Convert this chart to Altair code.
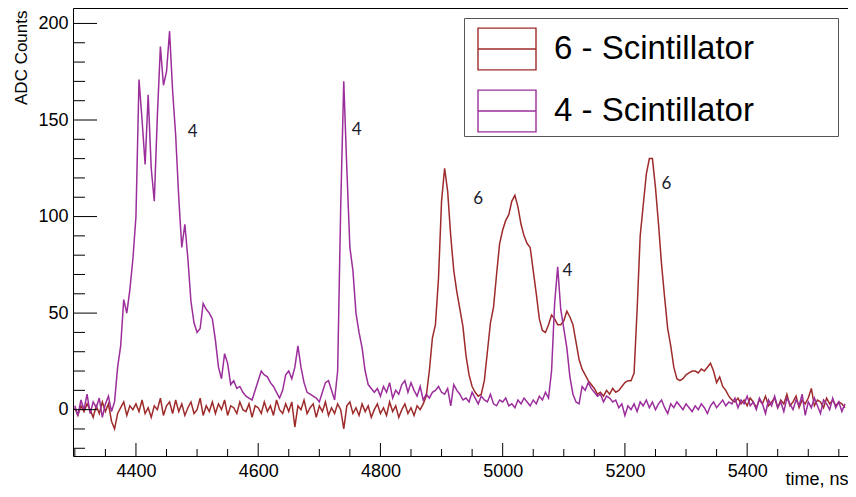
import altair as alt
import pandas as pd

# ---------------- data (ADC counts per 5 ns bin, starting at 4300 ns) ----------------
T0 = 4300
BIN_NS = 5

scint4 = [
    # 4300
    2, -3, 5, 0, 8, -2, 4, 1, 6, -4,
    # 4350
    3, 7, -1, 4, 22, 33, 57, 50, 62, 78,
    # 4400
    100, 171, 150, 127, 163, 125, 108, 152, 188, 168,
    # 4450
    175, 196, 165, 142, 110, 84, 96, 78, 56, 45,
    # 4500
    40, 42, 55, 52, 50, 47, 36, 22, 16, 29,
    # 4550
    24, 13, 15, 11, 12, 9, 7, 6, 5, 10,
    # 4600
    15, 20, 18, 17, 14, 12, 9, 6, 10, 18,
    # 4650
    20, 16, 22, 33, 22, 14, 9, 8, 7, 6,
    # 4700
    4, 9, 14, 15, 10, 5, 20, 105, 170, 125,
    # 4750
    84, 72, 50, 40, 32, 20, 13, 11, 9, 11,
    # 4800
    7, 12, 9, 14, 6, 10, 8, 13, 15, 9,
    # 4850
    14, 10, 7, 12, 5, 8, 6, 9, 10, 12,
    # 4900
    9, 8, 11, 2, 13, 10, 8, 5, 6, 4,
    # 4950
    9, 6, 3, 7, 5, 4, 8, 3, 2, 5,
    # 5000
    4, 6, 2, 3, 1, 5, 3, 6, 4, 2,
    # 5050
    5, 3, 7, 5, 9, 6, 20, 55, 74, 52,
    # 5100
    42, 32, 17, 8, 4, 3, 12, 10, 14, 11,
    # 5150
    9, 7, 8, 4, 7, 6, 4, 5, 1, 3,
    # 5200
    -3, 2, 0, 3, -1, 4, 2, 5, 1, 4,
    # 5250
    0, 3, 5, 1, -2, 3, 1, 4, 2, 0,
    # 5300
    3, 1, -1, 2, 0, 3, 1, -2, 2, 4,
    # 5350
    1, 3, 5, 2, 4, 3, 6, 1, 5, 3,
    # 5400
    7, 2, 4, 0, 6, 3, -2, 5, 2, 7,
    # 5450
    1, 4, -1, 6, 3, 0, 5, 2, 8, -3,
    # 5500
    4, 1, 6, 2, -2, 5, 3, 0, 6, 1,
    # 5550
    4, -1, 3,
]

scint6 = [
    # 4300
    1, -3, 2, -1, 3, 0, -4, 2, -2, 4,
    # 4350
    -1, 3, -6, -10, -2, 1, 4, -3, 2, 0,
    # 4400
    3, -1, 5, -2, 1, -4, 2, 0, 6, -3,
    # 4450
    2, 4, -2, 5, -1, 3, -3, 1, 4, -2,
    # 4500
    0, 6, -3, 2, -1, 4, -2, 3, 0, 5,
    # 4550
    -3, 2, 1, -2, 4, 0, -1, 3, -4, 2,
    # 4600
    1, -2, 4, -1, 2, -3, 5, 0, -2, 3,
    # 4650
    -1, 4, -9, 2, 0, 5, -2, 1, 3, -4,
    # 4700
    2, -1, 4, -3, 1, -2, 3, 0, -10, 2,
    # 4750
    4, -2, 1, -3, 3, -1, 2, -4, 0, 3,
    # 4800
    -2, 1, -3, 4, -1, 2, -4, 0, 3, -2,
    # 4850
    1, -3, 2, 0, 3, 7, 20, 37, 44, 68,
    # 4900
    108, 125, 113, 90, 72, 61, 52, 43, 28, 18,
    # 4950
    12, 9, 7, 8, 15, 30, 45, 53, 70, 86,
    # 5000
    93, 98, 101, 108, 111, 105, 96, 90, 86, 84,
    # 5050
    72, 60, 47, 41, 40, 44, 49, 47, 44, 44,
    # 5100
    46, 51, 48, 44, 35, 26, 21, 18, 15, 13,
    # 5150
    11, 8, 9, 7, 10, 8, 11, 9, 10, 12,
    # 5200
    14, 15, 15, 19, 52, 90, 106, 122, 130, 130,
    # 5250
    115, 96, 75, 58, 42, 33, 22, 16, 15, 16,
    # 5300
    18, 19, 20, 20, 19, 21, 20, 22, 24, 20,
    # 5350
    14, 17, 12, 10, 7, 5, 4, 6, 3, 5,
    # 5400
    2, 6, 4, 1, 5, 3, 7, 2, 4, 6,
    # 5450
    1, 5, 3, 8, 2, 4, 7, 1, 5, 3,
    # 5500
    6, 11, 2, 5, 4, 1, 6, 3, 5, 2,
    # 5550
    4, 3, 1,
]

series_names = ["6 - Scintillator", "4 - Scintillator"]
series_colors = ["#9e2b2b", "#9b2e9b"]

annot_text = ["4", "4", "6", "4", "6"]
annot_t = [4493, 4761, 4960, 5106, 5268]
annot_y = [144, 145, 109, 72, 117]

x_major = [4400, 4600, 4800, 5000, 5200, 5400]
x_minor = [4300, 4350, 4450, 4500, 4550, 4650, 4700, 4750, 4850, 4900, 4950,
           5050, 5100, 5150, 5250, 5300, 5350, 5450, 5500, 5550]
y_major = [0, 50, 100, 150, 200]
y_minor = [-20, -10, 10, 20, 30, 40, 60, 70, 80, 90, 110, 120, 130, 140,
           160, 170, 180, 190]

X_DOMAIN = [4297, 5565]
Y_DOMAIN = [-24, 208]

# ---------------- build ----------------
W, H = 775, 448
FONT = "Liberation Sans"

df6 = pd.DataFrame({"t": [T0 + BIN_NS * i for i in range(len(scint6))],
                    "counts": scint6, "series": series_names[0]})
df4 = pd.DataFrame({"t": [T0 + BIN_NS * i for i in range(len(scint4))],
                    "counts": scint4, "series": series_names[1]})
df_ann = pd.DataFrame({"t": annot_t, "y": annot_y, "label": annot_text})

xscale = alt.Scale(domain=X_DOMAIN, nice=False, zero=False)
yscale = alt.Scale(domain=Y_DOMAIN, nice=False, zero=False)

xaxis = alt.Axis(values=x_major, format="d", ticks=False, domain=False, grid=False,
                 labelFont=FONT, labelFontSize=18, labelColor="black", labelPadding=6,
                 title="time, ns", titleFont=FONT, titleFontSize=18,
                 titleFontWeight="normal", titleColor="black",
                 titleAnchor="end", titleAlign="right", titleX=W, titleY=28,
                 titleBaseline="alphabetic")
yaxis = alt.Axis(values=y_major, format="d", ticks=False, domain=False, grid=False,
                 labelFont=FONT, labelFontSize=18, labelColor="black", labelPadding=5,
                 title="ADC Counts", titleFont=FONT, titleFontSize=17,
                 titleFontWeight="normal", titleColor="black",
                 titleAngle=270, titleAlign="right", titleX=-47, titleY=2,
                 titleBaseline="alphabetic")

# trailing non-breaking spaces (kept by a zero-width char) widen the legend box
PAD = "\u00a0" * 9 + "\u200b"
sym_path = "M-1,-0.72L1,-0.72L1,0.72L-1,0.72Z M-1,0L1,0"
legend = alt.Legend(orient="none", legendX=391, legendY=10, title=None,
                    fillColor="white", strokeColor="#555555", padding=1,
                    symbolType=sym_path, symbolSize=3364, symbolStrokeWidth=1.4,
                    symbolFillColor="transparent", symbolOffset=12,
                    labelFont=FONT, labelFontSize=33, labelColor="black",
                    labelOffset=17, rowPadding=8, labelLimit=600,
                    labelExpr="datum.label + '" + PAD + "'")
cscale = alt.Scale(domain=series_names, range=series_colors)


def line_layer(df):
    return alt.Chart(df).mark_line(strokeWidth=1.5, clip=True).encode(
        x=alt.X("t:Q", scale=xscale, axis=xaxis),
        y=alt.Y("counts:Q", scale=yscale, axis=yaxis),
        color=alt.Color("series:N", scale=cscale, legend=legend),
    )


brown = line_layer(df6)
purple = line_layer(df4)


def xticks(vals, length):
    return alt.Chart(pd.DataFrame({"v": vals})).mark_rule(color="black", strokeWidth=1).encode(
        x=alt.X("v:Q", scale=xscale, axis=xaxis),
        y=alt.value(H), y2=alt.value(H - length))


def yticks(vals, length):
    return alt.Chart(pd.DataFrame({"v": vals})).mark_rule(color="black", strokeWidth=1).encode(
        y=alt.Y("v:Q", scale=yscale, axis=yaxis),
        x=alt.value(0), x2=alt.value(length))


ann = alt.Chart(df_ann).mark_text(font="Lato", fontSize=17, color="#1a1a2e",
                                  align="center", baseline="middle").encode(
    x=alt.X("t:Q", scale=xscale, axis=xaxis),
    y=alt.Y("y:Q", scale=yscale, axis=yaxis),
    text="label:N")

chart = alt.layer(
    brown, purple,
    xticks(x_major, 13), xticks(x_minor, 7),
    yticks(y_major, 24), yticks(y_minor, 12),
    ann,
).properties(
    width=W, height=H,
    autosize=alt.AutoSizeParams(type="none"),
    padding={"left": 65, "top": 0, "right": 0, "bottom": 33},
    background="white",
).configure_view(stroke="black", strokeWidth=1)

chart.save("out.html", embed_options={"renderer": "svg", "actions": False})
